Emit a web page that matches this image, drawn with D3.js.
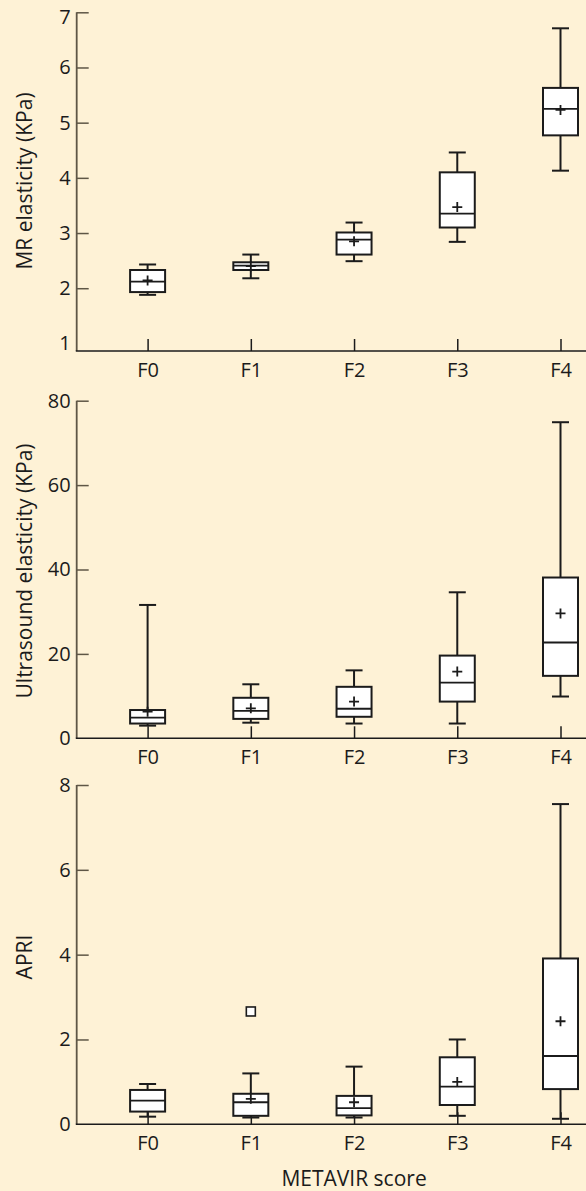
<!DOCTYPE html>
<html>
<head>
<meta charset="utf-8">
<script src="https://cdn.jsdelivr.net/npm/d3@7"></script>
<style>
  html, body { margin: 0; padding: 0; background: #fef2d6; }
  svg { display: block; font-family: "Open Sans", "Noto Sans", sans-serif; }
</style>
</head>
<body>
<svg id="chart"></svg>
<script>
const categories = ["F0", "F1", "F2", "F3", "F4"];

// [low whisker, Q1, median, Q3, high whisker]
const mrBoxes = [
  [1.88, 1.93, 2.12, 2.33, 2.43],
  [2.18, 2.33, 2.41, 2.47, 2.61],
  [2.49, 2.61, 2.88, 3.01, 3.19],
  [2.84, 3.10, 3.35, 4.10, 4.46],
  [4.13, 4.77, 5.25, 5.63, 6.71]
];
const mrMeans = [2.14, 2.40, 2.85, 3.47, 5.23];

const usBoxes = [
  [3.0, 3.5, 4.9, 6.7, 31.6],
  [3.7, 4.6, 6.5, 9.6, 12.8],
  [3.5, 5.1, 7.0, 12.2, 16.1],
  [3.5, 8.7, 13.2, 19.6, 34.6],
  [9.9, 14.8, 22.7, 38.1, 74.9]
];
const usMeans = [6.3, 7.1, 8.7, 15.8, 29.6];

const apriBoxes = [
  [0.18, 0.30, 0.56, 0.81, 0.95],
  [0.16, 0.20, 0.52, 0.72, 1.20],
  [0.16, 0.21, 0.38, 0.67, 1.36],
  [0.20, 0.455, 0.89, 1.58, 2.00],
  [0.13, 0.83, 1.61, 3.91, 7.55]
];
const apriMeans = [null, 0.60, 0.52, 1.00, 2.43];
const apriOutliers = [{ cat: "F1", value: 2.66 }];

const mrTicks = [1, 2, 3, 4, 5, 6, 7];
const usTicks = [0, 20, 40, 60, 80];
const apriTicks = [0, 2, 4, 6, 8];

const width = 586;
const height = 1191;
const axisX = 76.7;
const boxW = 35;
const capW = 17;
const ink = "#1b1b1b";
const tickFont = 20;
const titleFont = 21;

const svg = d3.select("#chart").attr("width", width).attr("height", height);

const x = d3.scalePoint().domain(categories).range([147.6, 560.5]);

const panels = [
  { title: "MR elasticity (KPa)", titleY: 181, boxes: mrBoxes, means: mrMeans, outliers: [],
    domain: [1, 7], range: [343.4, 12.3], baseY: 351, ticks: mrTicks },
  { title: "Ultrasound elasticity (KPa)", titleY: 571, boxes: usBoxes, means: usMeans, outliers: [],
    domain: [0, 80], range: [738.3, 400.7], baseY: 738.3, ticks: usTicks },
  { title: "APRI", titleY: 957, boxes: apriBoxes, means: apriMeans, outliers: apriOutliers,
    domain: [0, 8], range: [1124.3, 785], baseY: 1124.3, ticks: apriTicks }
];

panels.forEach((p) => {
  const y = d3.scaleLinear().domain(p.domain).range(p.range);
  const g = svg.append("g");

  // y 轴
  const ya = g.append("g")
    .attr("transform", `translate(${axisX},0)`)
    .call(d3.axisLeft(y).tickValues(p.ticks).tickFormat(d3.format("d"))
      .tickSize(-12).tickSizeOuter(0).tickPadding(6));
  ya.select(".domain").remove();
  ya.selectAll(".tick line").attr("stroke", "#5e5646").attr("stroke-width", 1.5)
    .filter((d) => y(d) > p.baseY - 10).remove();
  ya.selectAll(".tick text").attr("font-size", tickFont).attr("fill", ink)
    .attr("font-family", "Open Sans, sans-serif")
    .filter((d) => y(d) < 20).attr("dy", "0.55em");
  g.append("line")
    .attr("x1", axisX).attr("x2", axisX)
    .attr("y1", y(p.domain[1])).attr("y2", p.baseY)
    .attr("stroke", "#5e5646").attr("stroke-width", 1.8);

  // x 轴
  const xa = g.append("g")
    .attr("transform", `translate(0,${p.baseY})`)
    .call(d3.axisBottom(x).tickSize(-12).tickSizeOuter(0).tickPadding(12));
  xa.select(".domain").remove();
  xa.selectAll(".tick line").attr("stroke", ink).attr("stroke-width", 1.5);
  xa.selectAll(".tick text").attr("font-size", tickFont).attr("fill", ink)
    .attr("font-family", "Open Sans, sans-serif");
  g.append("line")
    .attr("x1", axisX - 0.9).attr("x2", width)
    .attr("y1", p.baseY).attr("y2", p.baseY)
    .attr("stroke", ink).attr("stroke-width", 1.6);

  // y title
  g.append("text")
    .attr("transform", `translate(25,${p.titleY}) rotate(-90)`)
    .attr("text-anchor", "middle")
    .attr("dy", "0.35em")
    .attr("font-size", titleFont)
    .attr("fill", ink)
    .text(p.title);

  // 箱线
  const bx = g.selectAll(".box").data(p.boxes).join("g")
    .attr("transform", (_, i) => `translate(${x(categories[i])},0)`);

  bx.append("line")
    .attr("y1", (d) => y(d[0])).attr("y2", (d) => y(d[4]))
    .attr("stroke", ink).attr("stroke-width", 2);
  bx.append("line")
    .attr("x1", -capW / 2).attr("x2", capW / 2)
    .attr("y1", (d) => y(d[0])).attr("y2", (d) => y(d[0]))
    .attr("stroke", ink).attr("stroke-width", 2);
  bx.append("line")
    .attr("x1", -capW / 2).attr("x2", capW / 2)
    .attr("y1", (d) => y(d[4])).attr("y2", (d) => y(d[4]))
    .attr("stroke", ink).attr("stroke-width", 2);
  bx.append("rect")
    .attr("x", -boxW / 2).attr("width", boxW)
    .attr("y", (d) => y(d[3])).attr("height", (d) => y(d[1]) - y(d[3]))
    .attr("fill", "#fff").attr("stroke", ink).attr("stroke-width", 2);
  bx.append("line")
    .attr("x1", -boxW / 2).attr("x2", boxW / 2)
    .attr("y1", (d) => y(d[2])).attr("y2", (d) => y(d[2]))
    .attr("stroke", ink).attr("stroke-width", 1.8);

  // 均值 +
  g.selectAll(".mean").data(p.means.map((m, i) => ({ m, c: categories[i] })).filter((d) => d.m != null))
    .join("path")
    .attr("d", (d) => {
      const cx = x(d.c), cy = y(d.m);
      return `M${cx - 5},${cy}H${cx + 5}M${cx},${cy - 5}V${cy + 5}`;
    })
    .attr("stroke", ink).attr("stroke-width", 1.8).attr("fill", "none");

  // 离群点
  g.selectAll(".out").data(p.outliers).join("rect")
    .attr("x", (d) => x(d.cat) - 4.5).attr("y", (d) => y(d.value) - 4.5)
    .attr("width", 9).attr("height", 9)
    .attr("fill", "#fff").attr("stroke", ink).attr("stroke-width", 1.6);
});

svg.append("text")
  .attr("x", x("F2")).attr("y", 1186)
  .attr("text-anchor", "middle")
  .attr("font-size", titleFont)
  .attr("fill", ink)
  .text("METAVIR score");
</script>
</body>
</html>
